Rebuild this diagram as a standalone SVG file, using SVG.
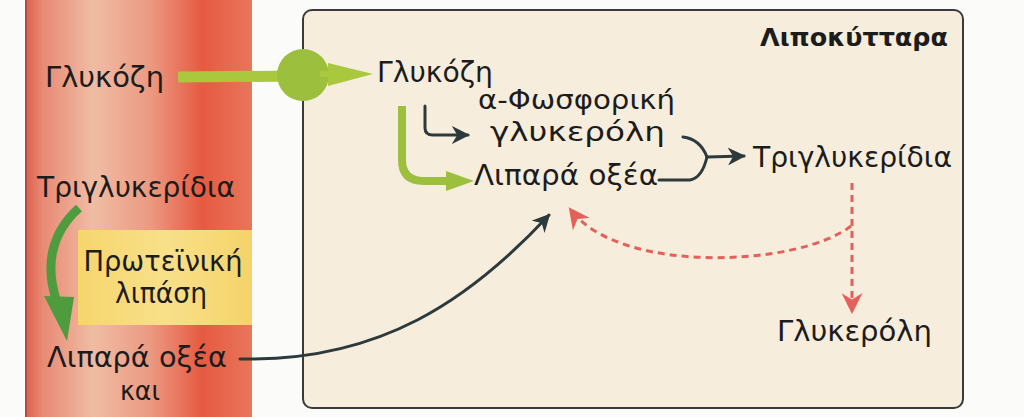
<svg xmlns="http://www.w3.org/2000/svg" width="1024" height="417" viewBox="0 0 1024 417">
  <defs>
    <linearGradient id="vessel" x1="25" y1="0" x2="252" y2="0" gradientUnits="userSpaceOnUse">
      <stop offset="0" stop-color="#d9604e"/>
      <stop offset="0.08" stop-color="#e98a74"/>
      <stop offset="0.3" stop-color="#f0bca4"/>
      <stop offset="0.55" stop-color="#ec9a82"/>
      <stop offset="0.78" stop-color="#e65a42"/>
      <stop offset="1" stop-color="#e8765a"/>
    </linearGradient>
    <linearGradient id="yellow" x1="0" y1="0" x2="1" y2="0">
      <stop offset="0" stop-color="#f6d56c"/>
      <stop offset="0.5" stop-color="#f8e08a"/>
      <stop offset="1" stop-color="#f5d36a"/>
    </linearGradient>
    <marker id="darkHead" viewBox="0 0 10 10" refX="9" refY="5" markerWidth="6" markerHeight="6" markerUnits="strokeWidth" orient="auto">
      <path d="M0,0 L10,5 L0,10 L3,5 Z" fill="#2c3a3c"/>
    </marker>
    <marker id="redHead" viewBox="0 0 10 10" refX="9" refY="5" markerWidth="7" markerHeight="7" markerUnits="strokeWidth" orient="auto">
      <path d="M0,0 L10,5 L0,10 L3,5 Z" fill="#e4605a"/>
    </marker>
  </defs>
  <style>
    .t { font-family: "DejaVu Sans", "Liberation Sans", sans-serif; fill: #1c1c1c; }
    .big { font-size: 29px; }
    .mid { font-size: 27px; }
    .title { font-size: 25px; font-weight: bold; }
    .dark { fill: none; stroke: #2c3a3c; stroke-width: 3; stroke-linecap: round; }
    .red { fill: none; stroke: #e4605a; stroke-width: 3; stroke-dasharray: 7 5; }
  </style>

  <rect x="0" y="0" width="1024" height="417" fill="#fbfbfa"/>

  <g id="blood-vessel">
    <rect x="25" y="0" width="227" height="417" fill="url(#vessel)"/>
    <line x1="26" y1="0" x2="26" y2="417" stroke="#b8483c" stroke-width="2"/>
  </g>

  <g id="adipocyte">
    <rect x="303" y="10" width="660" height="398" rx="9" fill="#f7eddd" stroke="#3a3a3a" stroke-width="2"/>
    <text class="t title" x="948" y="46" text-anchor="end" textLength="188" lengthAdjust="spacingAndGlyphs">Λιποκύτταρα</text>
  </g>

  <g id="connectors">
    <!-- glucose transport -->
    <line x1="178" y1="77" x2="300" y2="76" stroke="#a9c83e" stroke-width="11"/>
    <circle cx="303" cy="75" r="26" fill="#9cc03e"/>
    <line x1="320" y1="74" x2="345" y2="74" stroke="#a9c83e" stroke-width="6"/>
    <path d="M328,63 L373,74 L328,86 Z" fill="#a9c83e"/>
    <!-- glucose -> fatty acids (green) -->
    <path d="M402,106 L402,160 Q402,181 424,181 L450,181" fill="none" stroke="#9cc03e" stroke-width="8"/>
    <path d="M446,171 L474,181 L446,191 Z" fill="#9cc03e"/>
    <!-- glucose -> glycerol phosphate -->
    <path d="M425,106 L425,128 Q425,135 433,135 L468,135" class="dark" marker-end="url(#darkHead)"/>
    <!-- join to triglycerides -->
    <path d="M683,137 Q700,139 707,157" class="dark"/>
    <path d="M659,180 L690,180 Q702,178 707,157" class="dark"/>
    <path d="M707,157 L744,156" class="dark" marker-end="url(#darkHead)"/>
    <!-- blood fatty acids -> cell fatty acids -->
    <path d="M240,359 C 380,362 470,300 549,215" class="dark" marker-end="url(#darkHead)"/>
    <!-- triglycerides -> glycerol (dashed) -->
    <path d="M852,183 L852,312" class="red" marker-end="url(#redHead)"/>
    <path d="M851,226 C 800,266 620,276 570,209" class="red" marker-end="url(#redHead)"/>
    <!-- lipoprotein lipase arrow -->
    <path d="M79,208 C 52,232 44,265 57,302" fill="none" stroke="#4e9c3e" stroke-width="9"/>
    <path d="M44,296 L74,297 L67,341 Z" fill="#4e9c3e"/>
  </g>

  <g id="node-glucose-blood">
    <text class="t big" x="45" y="87" textLength="119" lengthAdjust="spacingAndGlyphs">Γλυκόζη</text>
  </g>
  <g id="node-triglycerides-blood">
    <text class="t big" x="37" y="197" textLength="198" lengthAdjust="spacingAndGlyphs">Τριγλυκερίδια</text>
  </g>
  <g id="node-lipase">
    <rect x="78" y="230" width="174" height="95" fill="url(#yellow)"/>
    <text class="t big" x="163" y="271" text-anchor="middle" textLength="159" lengthAdjust="spacingAndGlyphs">Πρωτεϊνική</text>
    <text class="t big" x="161" y="303" text-anchor="middle" textLength="92" lengthAdjust="spacingAndGlyphs">λιπάση</text>
  </g>
  <g id="node-fattyacids-blood">
    <text class="t big" x="47" y="367" textLength="180" lengthAdjust="spacingAndGlyphs">Λιπαρά οξέα</text>
    <text class="t mid" x="140" y="400" text-anchor="middle" textLength="40" lengthAdjust="spacingAndGlyphs">και</text>
  </g>
  <g id="node-glucose-cell">
    <text class="t big" x="377" y="82" textLength="116" lengthAdjust="spacingAndGlyphs">Γλυκόζη</text>
  </g>
  <g id="node-glycerolphosphate">
    <text class="t mid" x="478" y="109" textLength="197" lengthAdjust="spacingAndGlyphs">α-Φωσφορική</text>
    <text class="t mid" x="490" y="141" textLength="175" lengthAdjust="spacingAndGlyphs">γλυκερόλη</text>
  </g>
  <g id="node-fattyacids-cell">
    <text class="t big" x="474" y="185" textLength="184" lengthAdjust="spacingAndGlyphs">Λιπαρά οξέα</text>
  </g>
  <g id="node-triglycerides-cell">
    <text class="t big" x="753" y="167" textLength="199" lengthAdjust="spacingAndGlyphs">Τριγλυκερίδια</text>
  </g>
  <g id="node-glycerol">
    <text class="t big" x="777" y="341" textLength="155" lengthAdjust="spacingAndGlyphs">Γλυκερόλη</text>
  </g>
</svg>
